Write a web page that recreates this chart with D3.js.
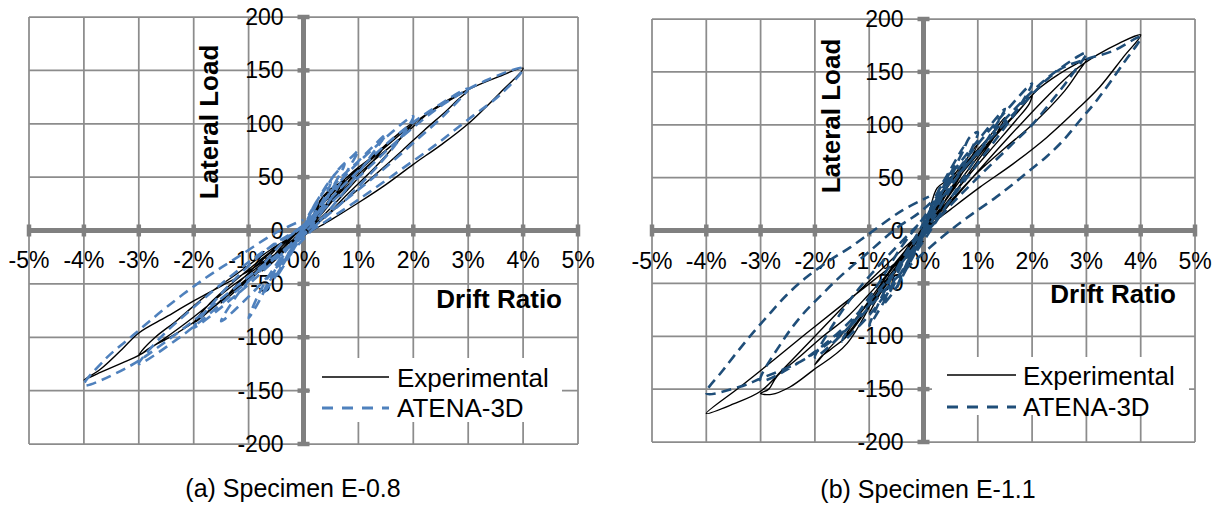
<!DOCTYPE html>
<html>
<head>
<meta charset="utf-8">
<script src="https://cdn.jsdelivr.net/npm/d3@7"></script>
<style>
body{margin:0;background:#fff;}
svg{display:block;font-family:"Liberation Sans",Arial,sans-serif;}
</style>
</head>
<body>
<svg id="chart"></svg>
<script>
// tick values and labels
var driftTicks = [-5,-4,-3,-2,-1,0,1,2,3,4,5];
var loadTicks = [-200,-150,-100,-50,0,50,100,150,200];
var seriesNames = ["Experimental","ATENA-3D"];
var captions = ["(a) Specimen E-0.8","(b) Specimen E-1.1"];

// [drift ratio %, lateral load]
var expE08 = [[0,0],[0.1,6],[0.25,14],[0.15,7],[0,-1],[-0.12,-6],[-0.25,-12],[-0.12,-5],[0,1],
  [0.15,10],[0.3,22],[0.5,32],[0.35,20],[0.15,6],[0,-3],[-0.2,-12],[-0.5,-26],[-0.35,-15],[-0.15,-4],[0.05,4],
  [0.2,16],[0.4,33],[0.6,40],[0.75,47],[0.55,32],[0.3,14],[0.1,1],[-0.2,-12],[-0.5,-27],[-0.75,-38],[-0.55,-24],[-0.3,-10],[0,3],
  [0.15,12],[0.3,28],[0.45,37],[0.7,46],[1.0,58],[0.8,45],[0.5,26],[0.2,8],[-0.1,-6],[-0.5,-26],[-0.8,-38],[-1.0,-47],[-0.75,-31],[-0.4,-13],[0,2],
  [0.3,22],[0.6,40],[0.9,55],[1.2,67],[1.5,80],[1.2,61],[0.8,38],[0.4,16],[0,-4],[-0.4,-20],[-0.9,-42],[-1.2,-55],[-1.5,-68],[-1.2,-50],[-0.8,-30],[-0.4,-12],[0,3],
  [0.4,28],[0.8,48],[1.2,66],[1.6,85],[2.0,101],[1.7,82],[1.3,59],[0.8,34],[0.4,13],[0,-4],[-0.5,-24],[-1.0,-45],[-1.5,-66],[-2.0,-87],[-1.7,-68],[-1.2,-45],[-0.7,-24],[-0.3,-8],[0.1,5],
  [0.6,34],[1.1,60],[1.6,83],[2.1,104],[2.5,117],[3.0,131],[2.8,122],[2.6,112],[2.2,94],[1.8,75],[1.3,52],[0.8,30],[0.3,9],[-0.2,-9],[-0.8,-35],[-1.4,-61],[-2.0,-86],[-2.4,-99],[-2.8,-110],[-3.0,-117],[-2.95,-113],[-2.7,-100],[-2.3,-84],[-1.8,-62],[-1.2,-40],[-0.6,-18],[0,2],
  [0.7,37],[1.2,62],[1.8,88],[2.4,115],[3.0,132],[3.5,143],[4.0,152],[3.6,130],[3.0,100],[2.5,80],[2.0,62],[1.5,43],[1.0,26],[0.5,10],[0,-5],[-0.6,-26],[-1.3,-52],[-2.0,-81],[-2.5,-100],[-3.0,-117],[-3.3,-124],[-3.7,-133],[-4.0,-140],[-3.7,-130],[-3.3,-111],[-3.0,-96],[-2.5,-81],[-2.0,-66],[-1.5,-52],[-1.1,-41],[-0.6,-25],[0,-6]];

var atenaE08 = [[0,0],[0.1,15],[0.25,26],[0.1,12],[-0.05,-5],[-0.25,-24],[-0.1,-10],[0.05,6],
  [0.2,24],[0.5,45],[0.35,28],[0.1,8],[-0.1,-8],[-0.3,-28],[-0.5,-44],[-0.3,-24],[-0.05,-2],
  [0.25,28],[0.5,48],[0.75,62],[0.55,42],[0.3,18],[0,-4],[-0.3,-26],[-0.55,-46],[-0.75,-60],[-0.55,-40],[-0.25,-14],[0.05,6],
  [0.35,35],[0.65,58],[0.9,70],[1.0,75],[0.8,56],[0.5,30],[0.2,8],[-0.2,-16],[-0.6,-46],[-0.85,-70],[-1.0,-82],[-0.8,-58],[-0.5,-32],[-0.15,-8],[0.2,12],
  [0.6,45],[1.0,65],[1.5,90],[1.2,68],[0.8,40],[0.4,15],[0,-8],[-0.5,-35],[-1.0,-62],[-1.5,-85],[-1.2,-60],[-0.8,-36],[-0.4,-12],[0.1,10],
  [0.7,48],[1.3,78],[2.0,107],[1.7,82],[1.2,52],[0.7,26],[0.2,4],[-0.4,-22],[-1.1,-55],[-2.0,-91],[-1.6,-65],[-1.1,-38],[-0.6,-15],[0,5],
  [0.8,46],[1.6,85],[2.3,112],[3.0,133],[2.6,110],[2.0,82],[1.4,55],[0.8,30],[0.2,6],[-0.5,-25],[-1.3,-60],[-2.2,-98],[-3.0,-125],[-2.6,-100],[-2.0,-72],[-1.4,-46],[-0.8,-22],[0,4],
  [0.9,45],[1.8,88],[2.6,120],[3.3,140],[4.0,152],[3.6,128],[3.0,104],[2.4,80],[1.8,58],[1.2,36],[0.6,15],[0,-5],[-0.8,-35],[-1.6,-68],[-2.4,-100],[-3.2,-128],[-4.0,-145],[-3.6,-120],[-3.1,-98],[-2.5,-72],[-1.8,-45],[-1.2,-25],[-0.5,-2],[0,10]];

var expE11 = [[0,0],[0.1,8],[0.25,20],[0.12,8],[0,-2],[-0.12,-9],[-0.25,-18],[-0.1,-6],[0.02,2],
  [0.2,18],[0.35,30],[0.5,38],[0.35,24],[0.15,8],[0,-4],[-0.2,-16],[-0.5,-35],[-0.35,-20],[-0.15,-6],[0.05,5],
  [0.12,20],[0.25,40],[0.45,48],[0.6,55],[0.75,63],[0.55,42],[0.3,20],[0.1,4],[-0.2,-16],[-0.5,-38],[-0.75,-56],[-0.55,-38],[-0.3,-18],[0,2],
  [0.3,30],[0.6,55],[0.8,68],[1.0,82],[0.8,62],[0.5,36],[0.2,12],[-0.1,-8],[-0.5,-38],[-0.8,-60],[-1.0,-78],[-0.75,-55],[-0.4,-26],[0,4],
  [0.4,38],[0.8,65],[1.2,88],[1.5,107],[1.3,88],[1.0,66],[0.6,38],[0.2,12],[-0.2,-14],[-0.7,-50],[-1.1,-78],[-1.5,-104],[-1.3,-88],[-1.0,-66],[-0.6,-38],[-0.2,-10],[0.1,8],
  [0.5,40],[1.0,72],[1.5,100],[1.8,116],[2.0,128],[1.95,120],[1.7,104],[1.3,80],[0.8,50],[0.4,24],[0,-2],[-0.5,-34],[-1.0,-68],[-1.5,-98],[-1.8,-115],[-2.0,-127],[-1.9,-120],[-1.7,-112],[-1.41,-100],[-1.0,-72],[-0.5,-38],[0.1,6],
  [0.6,42],[1.2,82],[1.7,110],[2.1,133],[2.5,148],[2.8,157],[3.0,162],[2.85,150],[2.6,132],[2.0,100],[1.5,78],[1.0,55],[0.5,28],[0,0],[-0.6,-36],[-1.41,-107],[-2.03,-132],[-2.46,-148],[-2.8,-155],[-3.0,-154],[-2.85,-150],[-2.7,-138],[-2.27,-119],[-1.85,-100],[-1.41,-82],[-1.0,-60],[-0.5,-32],[0,-4],
  [0.8,44],[1.6,90],[2.3,128],[2.8,152],[3.2,166],[3.6,177],[4.0,185],[3.68,164],[3.25,136],[2.88,117],[2.27,88],[1.65,63],[1.04,41],[0.5,20],[0,0],[-0.7,-33],[-1.4,-68],[-2.0,-100],[-2.6,-132],[-3.0,-152],[-3.5,-164],[-4.0,-173],[-3.38,-148],[-2.77,-123],[-2.15,-97],[-1.54,-72],[-0.99,-50],[-0.5,-30],[0,-10]];

var atenaE11 = [[0,0],[0.08,15],[0.25,30],[0.1,12],[-0.05,-6],[-0.25,-30],[-0.1,-12],[0.05,6],
  [0.2,30],[0.5,55],[0.3,32],[0.05,5],[-0.2,-22],[-0.5,-55],[-0.3,-30],[-0.05,-4],
  [0.25,35],[0.5,58],[0.75,80],[0.55,55],[0.25,22],[0,-6],[-0.3,-35],[-0.55,-58],[-0.75,-70],[-0.55,-48],[-0.25,-18],[0.1,10],
  [0.4,45],[0.7,72],[0.85,88],[1.0,93],[0.8,68],[0.45,35],[0.1,4],[-0.3,-30],[-0.7,-65],[-1.0,-90],[-0.8,-66],[-0.45,-32],[-0.1,-2],
  [0.5,52],[1.0,85],[1.5,115],[1.2,88],[0.8,55],[0.4,22],[0,-10],[-0.5,-46],[-1.0,-80],[-1.5,-105],[-1.2,-78],[-0.8,-48],[-0.4,-15],[0,12],
  [0.7,62],[1.3,100],[2.0,139],[1.7,112],[1.3,84],[0.8,50],[0.3,15],[-0.3,-25],[-1.0,-70],[-1.5,-98],[-2.0,-120],[-1.7,-92],[-1.3,-62],[-0.8,-32],[-0.3,-5],[0.2,22],
  [0.8,62],[1.5,105],[2.3,145],[3.0,168],[2.7,145],[2.4,125],[2.0,100],[1.58,79],[1.0,50],[0.5,24],[0,-5],[-0.8,-55],[-1.6,-98],[-2.3,-125],[-3.0,-142],[-2.6,-105],[-2.27,-82],[-1.9,-62],[-1.5,-42],[-1.0,-20],[-0.5,2],[0,20],
  [0.9,68],[1.8,118],[2.5,152],[3.0,162],[3.5,170],[4.0,183],[3.68,158],[3.19,123],[2.88,104],[2.57,85],[2.27,70],[1.96,57],[1.65,44],[1.35,32],[0.8,12],[0.3,-8],[-0.5,-45],[-1.3,-88],[-2.2,-122],[-3.0,-140],[-3.4,-148],[-4.0,-154],[-3.69,-132],[-3.26,-104],[-2.89,-82],[-2.52,-61],[-2.15,-44],[-1.72,-28],[-1.35,-16],[-0.92,0],[-0.39,19],[0.1,32]];

var screen = {width:1219, height:506};

var panels = [
    {exp:expE08, atena:atenaE08, atenaColor:"#4F81BD", caption:captions[0],
     xr:[29,578], yr:[444,17],
     yTitle:{x:218,y:122}, xTitle:{x:562,y:308}, xLabelDy:37,
     legend:{x:310,y:358,w:252,h:64, lx1:322, lx2:389, tx:397, r1:377, r2:408},
     cap:{x:293,y:497}},
    {exp:expE11, atena:atenaE11, atenaColor:"#1F4E79", caption:captions[1],
     xr:[652,1195], yr:[442,19],
     yTitle:{x:840,y:116}, xTitle:{x:1176,y:303}, xLabelDy:38,
     legend:{x:932,y:357,w:257,h:58, lx1:947, lx2:1016, tx:1023, r1:375, r2:407},
     cap:{x:928,y:498}}
];

var svg = d3.select("#chart")
    .attr("width", screen.width)
    .attr("height", screen.height);

svg.append("rect")
    .attr("width", screen.width)
    .attr("height", screen.height)
    .attr("fill", "#fff");

var drawPanel = function(p)
    {
        var g = svg.append("g");
        var xscale = d3.scaleLinear().domain([-5,5]).range(p.xr);
        var yscale = d3.scaleLinear().domain([-200,200]).range(p.yr);
        var x0 = xscale(0), y0 = yscale(0);

        // grid
        g.selectAll(".vgrid").data(driftTicks).enter().append("line")
            .attr("x1", function(d){return xscale(d);})
            .attr("x2", function(d){return xscale(d);})
            .attr("y1", yscale(200)).attr("y2", yscale(-200))
            .attr("stroke", "#8c8c8c").attr("stroke-width", 1.75);
        g.selectAll(".hgrid").data(loadTicks).enter().append("line")
            .attr("y1", function(d){return yscale(d);})
            .attr("y2", function(d){return yscale(d);})
            .attr("x1", xscale(-5)).attr("x2", xscale(5))
            .attr("stroke", "#8c8c8c").attr("stroke-width", 1.75);

        // axes through the origin
        g.append("line").attr("x1", xscale(-5)).attr("x2", xscale(5))
            .attr("y1", y0).attr("y2", y0)
            .attr("stroke", "#808080").attr("stroke-width", 5);
        g.append("line").attr("x1", x0).attr("x2", x0)
            .attr("y1", yscale(200)).attr("y2", yscale(-200))
            .attr("stroke", "#808080").attr("stroke-width", 5);
        g.selectAll(".xtick").data(driftTicks).enter().append("line")
            .attr("x1", function(d){return xscale(d);})
            .attr("x2", function(d){return xscale(d);})
            .attr("y1", y0 - 6).attr("y2", y0 + 6)
            .attr("stroke", "#808080").attr("stroke-width", 4.5);
        g.selectAll(".ytick").data(loadTicks).enter().append("line")
            .attr("y1", function(d){return yscale(d);})
            .attr("y2", function(d){return yscale(d);})
            .attr("x1", x0 - 6).attr("x2", x0 + 6)
            .attr("stroke", "#808080").attr("stroke-width", 4.5);

        // tick labels
        g.selectAll(".xlab").data(driftTicks).enter().append("text")
            .attr("x", function(d){return xscale(d);})
            .attr("y", y0 + p.xLabelDy)
            .attr("text-anchor", "middle")
            .attr("font-size", 23)
            .text(function(d){return d + "%";});
        g.selectAll(".ylab").data(loadTicks).enter().append("text")
            .attr("x", x0 - 20)
            .attr("y", function(d){return yscale(d) + 8;})
            .attr("text-anchor", "end")
            .attr("font-size", 23)
            .text(function(d){return d;});

        // axis titles
        g.append("text")
            .attr("transform", "translate(" + p.yTitle.x + "," + p.yTitle.y + ") rotate(-90)")
            .attr("text-anchor", "middle")
            .attr("font-size", 26).attr("font-weight", "bold")
            .text("Lateral Load");
        g.append("text")
            .attr("x", p.xTitle.x).attr("y", p.xTitle.y)
            .attr("text-anchor", "end")
            .attr("font-size", 26).attr("font-weight", "bold")
            .text("Drift Ratio");

        // curves
        var line = d3.line()
            .x(function(d){return xscale(d[0]);})
            .y(function(d){return yscale(d[1]);})
            .curve(d3.curveCatmullRom.alpha(0.5));
        g.append("path").datum(p.exp)
            .attr("d", line)
            .attr("fill", "none").attr("stroke", "#000")
            .attr("stroke-width", 1.4).attr("stroke-linejoin", "round");
        g.append("path").datum(p.atena)
            .attr("d", line)
            .attr("fill", "none").attr("stroke", p.atenaColor)
            .attr("stroke-width", 2.6).attr("stroke-dasharray", "10,6");

        // legend
        var L = p.legend;
        g.append("rect").attr("x", L.x).attr("y", L.y)
            .attr("width", L.w).attr("height", L.h).attr("fill", "#fff");
        g.append("line").attr("x1", L.lx1).attr("x2", L.lx2)
            .attr("y1", L.r1).attr("y2", L.r1)
            .attr("stroke", "#000").attr("stroke-width", 1.5);
        g.append("line").attr("x1", L.lx1).attr("x2", L.lx2)
            .attr("y1", L.r2).attr("y2", L.r2)
            .attr("stroke", p.atenaColor).attr("stroke-width", 3)
            .attr("stroke-dasharray", "11,9");
        g.append("text").attr("x", L.tx).attr("y", L.r1 + 9.5)
            .attr("font-size", 26).text(seriesNames[0]);
        g.append("text").attr("x", L.tx).attr("y", L.r2 + 9)
            .attr("font-size", 26).text(seriesNames[1]);

        // caption
        g.append("text").attr("x", p.cap.x).attr("y", p.cap.y)
            .attr("text-anchor", "middle")
            .attr("font-size", 25).text(p.caption);
    };

panels.forEach(drawPanel);
</script>
</body>
</html>
